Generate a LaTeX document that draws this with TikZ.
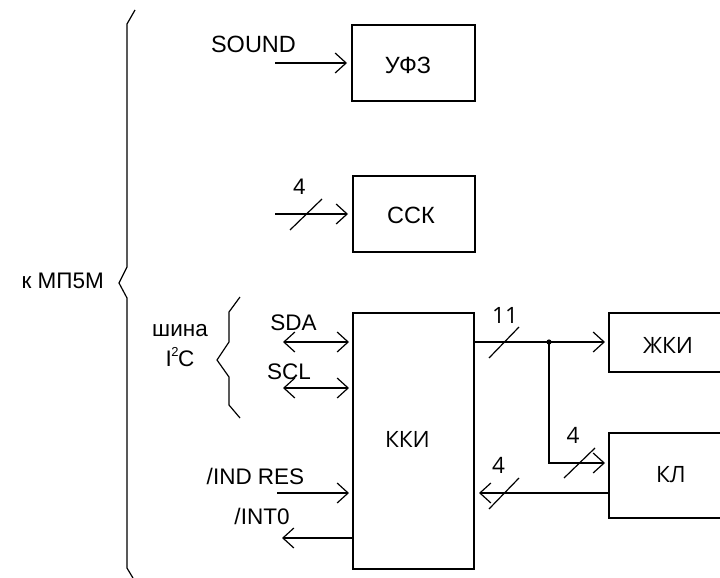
\documentclass[tikz,border=0pt]{standalone}
\usepackage{fontspec}
\setmainfont{Liberation Sans}
\newfontfamily\segfont{Open Sans}
\usetikzlibrary{arrows.meta}
\begin{document}
\begin{tikzpicture}[x=1pt,y=-1pt,
  box/.style={draw,line width=2.4pt,inner sep=0pt,outer sep=0pt},
  conn/.style={line width=1.2pt},
  arr/.style={conn,-{Straight Barb[length=11pt,width=20pt]}},
  darr/.style={conn,{Straight Barb[length=11pt,width=20pt]}-{Straight Barb[length=11pt,width=20pt]}},
  lbl/.style={inner sep=0pt,font=\fontsize{22.5}{24}\selectfont},
  blbl/.style={inner sep=0pt,font=\fontsize{23.5}{25}\selectfont},
  slbl/.style={inner sep=0pt,font=\segfont\fontsize{22.5}{24}\selectfont},
  brace/.style={line width=1.2pt,line join=miter}
]
\useasboundingbox (0,0) rectangle (720,578);
\clip (0,0) rectangle (720,578);

% boxes
\node[box,minimum width=123pt,minimum height=76pt] (ufz) at (413.5,63) {};
\node[box,minimum width=122pt,minimum height=76pt] (ssk) at (414,214) {};
\node[box,minimum width=121pt,minimum height=256pt] (kki) at (413.5,441) {};
\node[box,minimum width=122pt,minimum height=59pt] (zhki) at (670,342.5) {};
\node[box,minimum width=122pt,minimum height=85pt] (kl) at (670,475.5) {};

% box texts
\node[blbl] (tufz) at (408,65) {УФЗ};
\node[blbl] (tssk) at (411,215) {ССК};
\node[slbl] (tkki) at (407.5,439.5) {ККИ};
\node[slbl] (tzhki) at (668,345) {ЖКИ};
\node[slbl] (tkl) at (671,475) {КЛ};

% labels
\node[blbl] (tsound) at (253.5,44.5) {SOUND};
\node[lbl,anchor=east] (tmp) at (104,281) {к МП5М};
\node[lbl] (t4a) at (299.5,186.5) {4};
\node[lbl] (tsda) at (293.5,322.5) {SDA};
\node[lbl] (tscl) at (289,371.5) {SCL};
\node[lbl] (tshina) at (180,331) {шина};
\node[lbl] (ti2c) at (180,357) {I\kern-0.5pt\raisebox{0.45em}{\fontsize{13}{14}\selectfont 2}\kern-0.5pt C};
\node[lbl] (tind) at (255.5,476) {/IND RES};
\node[lbl] (tint) at (262,516.5) {/INT0};
\node[slbl] (t11) at (505,315) {11};
\node[slbl] (t4b) at (573,435.5) {4};
\node[slbl] (t4c) at (498.5,465.5) {4};

% connectors
\coordinate (soundL) at (275,63);
\draw[arr,shorten >=5pt] (soundL) -- (soundL -| ufz.west);
\coordinate (sskL) at (275,214);
\draw[arr,shorten >=5pt] (sskL) -- (sskL -| ssk.west);
\draw[conn] (290,230) -- (322,199);

\coordinate (sdaL) at (283,342);
\draw[darr,shorten >=4pt] (sdaL) -- (sdaL -| kki.west);
\coordinate (sclL) at (283,388);
\draw[darr,shorten >=4pt] (sclL) -- (sclL -| kki.west);
\coordinate (indL) at (277,493);
\draw[arr,shorten >=4pt] (indL) -- (indL -| kki.west);
\coordinate (intL) at (282,538);
\draw[arr] (intL -| kki.west) -- (intL);

\coordinate (jn) at (549,342);
\draw[arr,shorten >=4pt] (kki.east |- jn) -- (jn -| zhki.west);
\fill (jn) circle (2.6pt);
\draw[conn] (489,358) -- (519,327);
\coordinate (bend) at (549,463);
\draw[arr,shorten >=4pt] (jn) -- (bend) -- (bend -| kl.west);
\draw[conn] (564,478) -- (595,448);
\coordinate (ret) at (609,493);
\draw[arr,shorten >=5pt] (ret -| kl.west) -- (ret -| kki.east);
\draw[conn] (489,509) -- (519,478);

% braces
\draw[brace] (135,10) -- (127,24) -- (127,267) -- (119,283) -- (127,298) -- (127,568) -- (133,578);
\draw[brace] (240,297) -- (229,312) -- (229,342) -- (217,360) -- (229,377) -- (229,405) -- (240,418);
\end{tikzpicture}
\end{document}
